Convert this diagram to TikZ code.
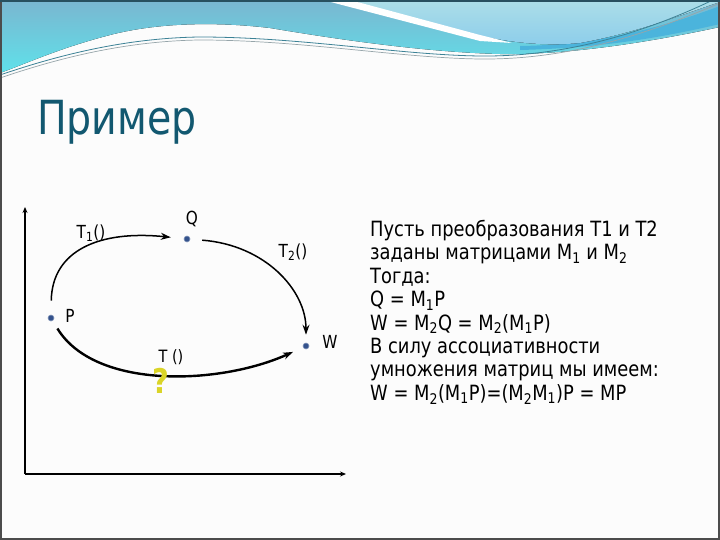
\documentclass[tikz,border=0pt]{standalone}
\usepackage{fontspec}
\setmainfont{DejaVu Sans}[FakeStretch=0.85]
\newfontfamily\tah{DejaVu Sans}[FakeStretch=0.85]
\newfontfamily\tahtitle{DejaVu Sans}[FakeStretch=0.84]
\usetikzlibrary{positioning,arrows.meta}

\definecolor{wavetop}{RGB}{122,182,208}
\definecolor{wavebot}{RGB}{95,225,234}
\definecolor{lighttop}{RGB}{172,222,232}
\definecolor{lightbot}{RGB}{140,205,235}
\definecolor{waveband}{RGB}{75,180,220}
\definecolor{waveline}{RGB}{60,130,150}
\definecolor{wavegrey}{RGB}{150,165,170}
\definecolor{frametop}{RGB}{40,80,95}
\definecolor{titleteal}{RGB}{18,88,112}
\definecolor{dotblue}{RGB}{52,82,140}
\definecolor{askyellow}{RGB}{218,212,40}

\begin{document}
\begin{tikzpicture}[
  x=1pt, y=-1pt,
  dot/.style={circle, fill=dotblue, draw=dotblue!60, line width=0.6pt, inner sep=0pt, minimum size=6pt},
  lbl/.style={font=\tah\fontsize{18}{20}\selectfont, inner sep=0pt},
  arc/.style={-{Stealth[length=10pt,width=7pt]}, line width=1.5pt},
  axis/.style={-{Stealth[length=6pt,width=5pt]}, line width=1.6pt}
]
  \useasboundingbox (0,0) rectangle (720,540);
  \fill[white!98!gray] (0,0) rectangle (720,540);

  % header waves
  \fill[top color=wavetop, bottom color=wavebot]
    (0,0) -- (720,0) -- (720,27) .. controls (650,42) and (570,55) .. (500,54)
    .. controls (420,52) and (330,38) .. (270,28) .. controls (220,22) and (160,22) .. (110,35)
    .. controls (60,48) and (30,62) .. (0,73) -- cycle;
  \fill[waveband]
    (520,46) .. controls (600,45) and (670,25) .. (720,6) -- (720,24)
    .. controls (660,38) and (600,48) .. (520,50) -- cycle;
  \fill[top color=lighttop, bottom color=lightbot]
    (350,0) -- (720,0) -- (720,2) .. controls (680,15) and (640,32) .. (580,43)
    .. controls (550,46) and (520,44) .. (480,36) .. controls (430,25) and (390,12) .. (350,0) -- cycle;
  \fill[white] (323,0) -- (350,0) -- (480,35) -- (512,43) -- (480,41) -- cycle;
  \draw[line width=0.8pt, waveline]
    (0,75) .. controls (50,58) and (120,38) .. (200,37) .. controls (300,37) and (400,55) .. (480,56)
    .. controls (570,57) and (650,30) .. (713,0);
  \draw[line width=0.7pt, wavegrey]
    (0,78) .. controls (50,61) and (120,41) .. (200,40) .. controls (300,40) and (400,58) .. (480,59)
    .. controls (570,60) and (650,33) .. (720,3);

  % slide frame
  \draw[line width=2pt, black!70] (1,1) rectangle (719,539);
  \draw[line width=2pt, frametop] (0,1) -- (720,1);

  % title
  \node[anchor=base west, inner sep=0pt, text=titleteal, font=\tahtitle\fontsize{47}{50}\selectfont] (title) at (37,135) {Пример};

  % axes
  \coordinate (origin) at (25,474);
  \coordinate (ytip) at (25,207);
  \coordinate (xtip) at (346,474);
  \draw[axis] (origin) -- (ytip);
  \draw[axis] (origin) -- (xtip);

  % points
  \node[dot] (P) at (51,318) {};
  \node[dot] (Q) at (187,239) {};
  \node[dot] (W) at (306,346) {};
  \node[lbl] (Plbl) at (70,316) {P};
  \node[lbl] (Qlbl) at (192,219) {Q};
  \node[lbl] (Wlbl) at (330,342) {W};

  % transformations
  \draw[arc, shorten <=14pt, shorten >=13pt] (P) .. controls (52,250) and (100,230) .. (Q);
  \draw[arc, shorten <=12pt, shorten >=8pt] (Q) .. controls (265,245) and (306,290) .. (W);
  \draw[arc, line width=2.4pt, shorten <=9pt, shorten >=11pt] (P) .. controls (95,390) and (220,385) .. (W);
  \node[lbl] (T1) at (91,233) {T\textsubscript{1}()};
  \node[lbl] (T2) at (293,252) {T\textsubscript{2}()};
  \node[lbl, font=\tah\fontsize{17}{19}\selectfont] (T) at (171,357) {T ()};
  \node[inner sep=0pt, text=askyellow, font=\tah\bfseries\fontsize{34}{36}\selectfont] (ask) at (161,381) {?};

  % explanation
  \node[anchor=north west, inner sep=0pt, align=left, font=\tah\fontsize{21}{23.4}\selectfont] (expl) at (370,220) {%
    Пусть преобразования Т1 и Т2\\
    заданы матрицами M\textsubscript{1} и M\textsubscript{2}\\
    Тогда:\\
    Q = M\textsubscript{1}P\\
    W = M\textsubscript{2}Q = M\textsubscript{2}(M\textsubscript{1}P)\\
    В силу ассоциативности\\
    умножения матриц мы имеем:\\
    W = M\textsubscript{2}(M\textsubscript{1}P)=(M\textsubscript{2}M\textsubscript{1})P = MP};
\end{tikzpicture}
\end{document}
